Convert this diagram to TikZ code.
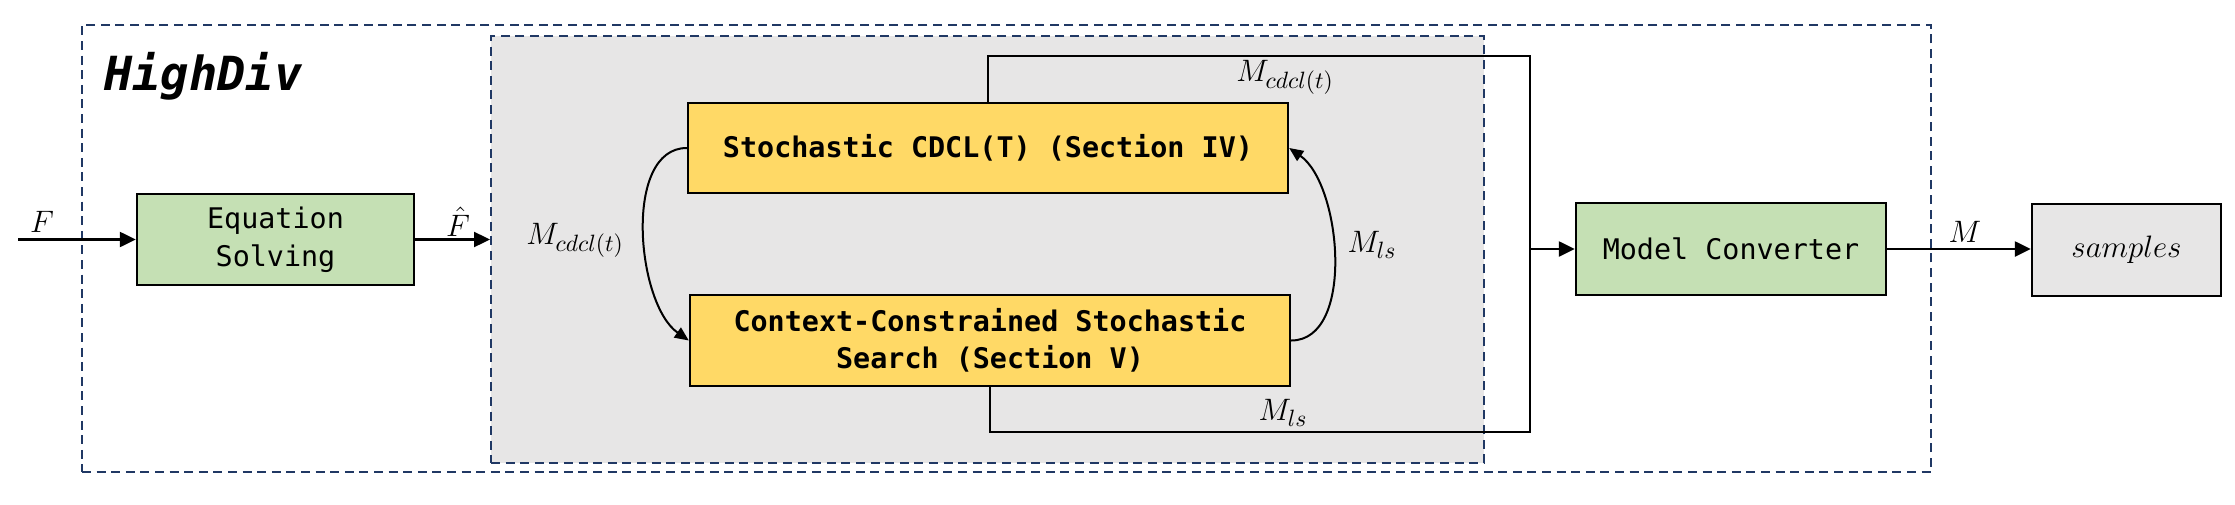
\RequirePackage{fix-cm}
\documentclass[tikz,border=0pt]{standalone}
\usepackage{fontspec}
\newfontfamily\monof{DejaVu Sans Mono}
\usetikzlibrary{arrows.meta}
\DeclareMathSizes{15.5}{15.5}{11.8}{9}
\definecolor{navy}{HTML}{203864}
\definecolor{bggray}{HTML}{E7E6E6}
\definecolor{boxgreen}{HTML}{C5E0B4}
\definecolor{boxyellow}{HTML}{FFD966}
\begin{document}
\begin{tikzpicture}[x=0.5pt,y=-0.5pt,
  box/.style={draw=black, line width=1.2pt, inner sep=0pt, align=center,
    font=\monof\fontsize{14.2}{18.8}\selectfont},
  greenbox/.style={box, fill=boxgreen},
  yellowbox/.style={box, fill=boxyellow, font=\monof\bfseries\fontsize{14.2}{18.8}\selectfont},
  graybox/.style={box, fill=bggray, font=\fontsize{15.5}{18}\selectfont},
  dashbox/.style={draw=navy, line width=1pt, dash pattern=on 4.5pt off 2.8pt, inner sep=0pt},
  arr/.style={line width=1.2pt, -{Triangle[length=8pt,width=7.5pt]}},
  curvearr/.style={line width=1pt, -{Triangle[length=7pt,width=6pt]}},
  route/.style={line width=1.1pt},
  lbl/.style={font=\fontsize{15.5}{18}\selectfont, inner sep=0pt}
]
\useasboundingbox (0,0) rectangle (2235,504);

% frames
\node[dashbox, minimum width=924.5pt, minimum height=223.5pt] (outer) at (1006.5,248.5) {};
\node[dashbox, fill=bggray, minimum width=496.5pt, minimum height=213.5pt] (gray) at (987.5,249.5) {};

\node[anchor=base west, inner sep=0pt, font=\monof\bfseries\itshape\fontsize{23.5}{27}\selectfont] (title) at (104,90) {HighDiv};

% boxes
\node[greenbox, minimum width=138.5pt, minimum height=45.5pt] (eq) at (275.5,239.5) {Equation\\Solving};
\node[yellowbox, minimum width=300pt, minimum height=45pt] (cdcl) at (988,148) {Stochastic CDCL(T) (Section IV)};
\node[yellowbox, minimum width=300pt, minimum height=45.5pt] (ctx) at (990,340.5) {Context-Constrained Stochastic\\Search (Section V)};
\node[greenbox, minimum width=155pt, minimum height=46pt] (mc) at (1731,249) {Model Converter};
\node[graybox, minimum width=94.5pt, minimum height=46pt] (samples) at (2126.5,250) {$samples$};

% coordinates
\coordinate (fin) at (18,239.5);
\coordinate (tr) at (1530,56);
\coordinate (br) at (1530,432);
\coordinate (mid) at (1530,249);

% connectors
\draw[arr] (fin) -- (eq.west);
\draw[arr] (eq.east) -- (eq.east -| gray.west);
\draw[curvearr] (cdcl.west) to[out=180, in=145, looseness=0.85] (ctx.west);
\draw[curvearr] (ctx.east) to[out=0, in=-35, looseness=0.85] (cdcl.east);
\draw[route] (cdcl.north) |- (tr) -- (br) -| (ctx.south);
\draw[arr] (mid) -- (mc.west);
\draw[arr] (mc.east) -- (mc.east -| samples.west);

% labels
\node[lbl] (lF) at (42,222) {$F$};
\node[lbl] (lFh) at (458,222) {$\hat{F}$};
\node[lbl] (l1) at (575,240) {$M_{cdcl(t)}$};
\node[lbl] (l2) at (1285,77) {$M_{cdcl(t)}$};
\node[lbl] (l3) at (1372,245) {$M_{ls}$};
\node[lbl] (l4) at (1283,413) {$M_{ls}$};
\node[lbl] (l5) at (1965,232) {$M$};
\end{tikzpicture}
\end{document}
